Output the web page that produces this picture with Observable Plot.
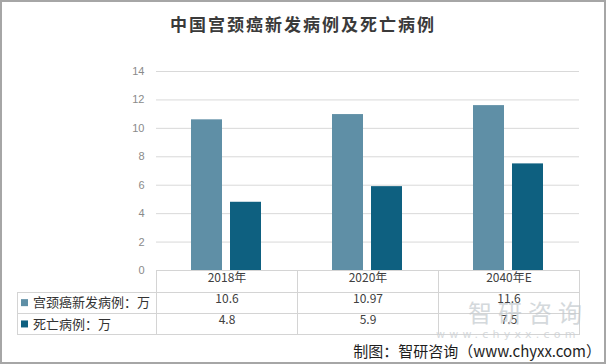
<!DOCTYPE html>
<html>
<head>
<meta charset="utf-8">
<script src="https://cdn.jsdelivr.net/npm/d3@7"></script>
<script src="https://cdn.jsdelivr.net/npm/@observablehq/plot@0.6"></script>
<style>
  body { margin: 0; background: #fff; }
  #wrap { position: relative; width: 606px; height: 364px; overflow: hidden; background: #fff; font-family: "Noto Sans CJK SC", sans-serif; }
  #chart { position: absolute; left: 0; top: 0; }
  #title { position: absolute; left: 0; top: 12px; width: 606px; text-align: center; font-size: 17px; font-weight: 700; letter-spacing: 2px; color: #3a3a3a; line-height: 24px; }
  #wm1 { position: absolute; left: 468px; top: 297px; font-size: 24px; letter-spacing: 6px; color: #c3c9ce; opacity: 0.7; line-height: 30px; }
  #wm2 { position: absolute; left: 436px; top: 328px; font-size: 11px; letter-spacing: 4.2px; color: #cdd1d4; opacity: 0.8; font-family: "DejaVu Sans", sans-serif; line-height: 14px; }
  #caption { position: absolute; right: 5px; top: 340px; font-size: 15px; color: #1e1e1e; line-height: 22px; white-space: nowrap; }
  #border { position: absolute; left: 0; top: 0; width: 606px; height: 364px; box-sizing: border-box; border: 2px solid #a6a6a6; pointer-events: none; }
</style>
</head>
<body>
<div id="wrap">
  <div id="chart"></div>
  <div id="title">中国宫颈癌新发病例及死亡病例</div>
  <div id="wm1">智研咨询</div>
  <div id="wm2">www.chyxx.com</div>
  <div id="caption">制图：智研咨询（www.chyxx.com）</div>
  <div id="border"></div>
</div>
<script>
const categories = ["2018年", "2020年", "2040年E"];
const seriesNames = ["宫颈癌新发病例：万", "死亡病例：万"];
const newCases = [10.6, 10.97, 11.6];
const deaths = [4.8, 5.9, 7.5];
const seriesColors = ["#5f8fa6", "#0e6080"];
const yTicks = [0, 2, 4, 6, 8, 10, 12, 14];

const seriesValues = [newCases, deaths];
const rows = categories.flatMap((c, i) =>
  seriesNames.map((s, j) => ({cat: c, series: s, value: seriesValues[j][i]})));

const cjk = "'Noto Sans CJK SC', sans-serif";

const plot = Plot.plot({
  width: 606,
  height: 364,
  marginTop: 71,
  marginBottom: 94,
  marginLeft: 155,
  marginRight: 27,
  style: {background: "transparent", fontFamily: cjk, overflow: "visible"},
  fx: {domain: categories, padding: 0, axis: null},
  x: {domain: seriesNames, paddingInner: 0.2, paddingOuter: 0.875, axis: null},
  y: {domain: [0, 14], axis: null},
  color: {domain: seriesNames, range: seriesColors},
  marks: [
    Plot.gridY(yTicks, {stroke: "#d9d9d9", strokeOpacity: 1}),
    Plot.axisY(yTicks, {tickSize: 0, tickPadding: 12, label: null, fill: "#8a8a8a", fontSize: 11, fontFamily: "'Liberation Sans', sans-serif"}),
    Plot.barY(rows, {fx: "cat", x: "series", y: "value", fill: "series"}),
    Plot.text(categories, {fx: d => d, text: d => d, frameAnchor: "bottom", dy: 11, fill: "#404040", fontSize: 12}),
    Plot.text(rows.filter(d => d.series === seriesNames[0]), {fx: "cat", text: d => String(d.value), frameAnchor: "bottom", dy: 32.5, fill: "#404040", fontSize: 12}),
    Plot.text(rows.filter(d => d.series === seriesNames[1]), {fx: "cat", text: d => String(d.value), frameAnchor: "bottom", dy: 53.5, fill: "#404040", fontSize: 12})
  ]
});

document.getElementById("chart").appendChild(plot);

// Data table lines and row legends, positioned from the plot's own scales
const fx = plot.scale("fx");
const ys = plot.scale("y");
const y0 = ys.apply(0);
const bounds = categories.map(c => fx.apply(c)).concat([fx.apply(categories[categories.length - 1]) + fx.bandwidth]);
const left = bounds[0], right = bounds[bounds.length - 1];
const tableLeft = 17.5;
const rowH = 21.3;
const rowY = [y0, y0 + 22, y0 + 22 + rowH, y0 + 22 + 2 * rowH];
const svg = d3.select(plot);
const g = svg.append("g").attr("stroke", "#d4d4d4").attr("stroke-width", 1).attr("shape-rendering", "crispEdges");
g.append("line").attr("x1", left).attr("x2", right).attr("y1", rowY[0]).attr("y2", rowY[0]);
for (let k = 1; k < rowY.length; k++) {
  g.append("line").attr("x1", tableLeft).attr("x2", right).attr("y1", rowY[k]).attr("y2", rowY[k]);
}
bounds.forEach(b => g.append("line").attr("x1", b).attr("x2", b).attr("y1", rowY[0]).attr("y2", rowY[3]));
g.append("line").attr("x1", tableLeft).attr("x2", tableLeft).attr("y1", rowY[1]).attr("y2", rowY[3]);
const leg = svg.append("g").attr("text-anchor", "start");
seriesNames.forEach((s, j) => {
  const cy = (rowY[j + 1] + rowY[j + 2]) / 2;
  leg.append("rect").attr("x", 21).attr("y", cy - 3.5).attr("width", 7).attr("height", 7).attr("fill", seriesColors[j]);
  leg.append("text").attr("x", 33).attr("y", cy).attr("dy", "0.35em").attr("font-size", 13).attr("fill", "#333")
    .attr("text-anchor", "start").attr("font-family", cjk).text(s);
});
</script>
</body>
</html>
